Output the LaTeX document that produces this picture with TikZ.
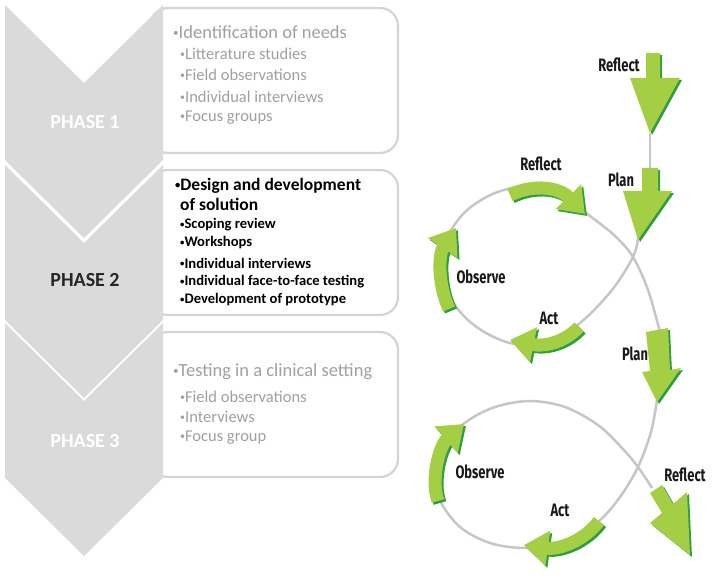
\documentclass[tikz,border=0pt]{standalone}
\usepackage{fontspec}
\setmainfont{Carlito}
\newfontfamily\lblfont{Fira Sans}[FakeStretch=0.72]
\usetikzlibrary{arrows.meta}
\newcommand\smbul{\raisebox{0.12em}{\scalebox{0.6}{\textbullet}}}
\definecolor{chev}{HTML}{DADADA}
\definecolor{boxline}{HTML}{D4D4D4}
\definecolor{txtgray}{HTML}{A0A0A0}
\definecolor{lgreen}{HTML}{A4CF45}
\definecolor{dgreen}{HTML}{2E9E40}
\definecolor{curvecol}{HTML}{C6C6C6}
\tikzset{
 chevst/.style={fill=chev},
 boxst/.style={draw=boxline, line width=2.2pt, fill=white, rounded corners=18pt},
 hdr/.style={anchor=west, inner sep=0pt, font=\fontsize{18.5}{20}\selectfont},
 itm/.style={anchor=west, inner sep=0pt, font=\fontsize{16.5}{18}\selectfont},
 hdrb/.style={anchor=west, inner sep=0pt, font=\fontsize{17.5}{19}\selectfont\bfseries},
 itmb/.style={anchor=west, inner sep=0pt, font=\fontsize{14.6}{16}\selectfont\bfseries},
 phase/.style={inner sep=0pt, font=\fontsize{20}{22}\selectfont\bfseries},
 lbl/.style={inner sep=0pt, font=\lblfont\bfseries\fontsize{18}{20}\selectfont, text=black!90},
 gline/.style={draw=curvecol, line width=2.5pt},
 garrow/.style={line width=13pt, -{Triangle[width=34pt,length=24pt]}},
}
\begin{document}
\begin{tikzpicture}[x=1pt,y=-1pt]
\useasboundingbox (0,0) rectangle (715,588);
% boxes
\draw[boxst] (150,8) rectangle (398,153);
\draw[boxst] (150,170) rectangle (398,315);
\draw[boxst] (150,332) rectangle (398,477);
% chevrons
\fill[chevst] (5,5) -- (84,83) -- (163,5) -- (163,160) -- (84,238) -- (5,160) -- cycle;
\fill[chevst] (5,165) -- (84,243) -- (163,165) -- (163,320) -- (84,398) -- (5,320) -- cycle;
\fill[chevst] (5,323) -- (84,401) -- (163,323) -- (163,478) -- (84,556) -- (5,478) -- cycle;
\node[phase, text=white] (ph1) at (85,122) {PHASE 1};
\node[phase, text=black!85] (ph2) at (85,280) {PHASE 2};
\node[phase, text=white] (ph3) at (85,441) {PHASE 3};
% phase 1 text
\node[hdr, text=txtgray] (h1) at (173,32) {\smbul Identification of needs};
\node[itm, text=txtgray] (i11) at (180,54) {\smbul Litterature studies};
\node[itm, text=txtgray] (i12) at (180,75) {\smbul Field observations};
\node[itm, text=txtgray] (i13) at (180,97) {\smbul Individual interviews};
\node[itm, text=txtgray] (i14) at (180,118) {\smbul Focus groups};
% phase 2 text
\node[hdrb] (h2) at (175,186) {\smbul Design and development};
\node[hdrb] (h2b) at (180,204) {of solution};
\node[itmb] (i21) at (180,225) {\smbul Scoping review};
\node[itmb] (i22) at (180,243) {\smbul Workshops};
\node[itmb] (i23) at (180,263) {\smbul Individual interviews};
\node[itmb] (i24) at (180,282) {\smbul Individual face-to-face testing};
\node[itmb] (i25) at (180,300) {\smbul Development of prototype};
% phase 3 text
\node[hdr, text=txtgray] (h3) at (173,372) {\smbul Testing in a clinical setting};
\node[itm, text=txtgray] (i31) at (180,397) {\smbul Field observations};
\node[itm, text=txtgray] (i32) at (180,417) {\smbul Interviews};
\node[itm, text=txtgray] (i33) at (180,438) {\smbul Focus group};
% spiral lines
\draw[gline] (650,133) -- (650,170);
\draw[gline] plot[smooth, tension=0.55] coordinates {(638,238) (633,257) (612,290) (580,323) (545,343) (510,343) (478,328) (455,305) (441,270) (446,240) (465,212) (495,193) (530,186) (562,195) (590,216) (615,236) (633,257) (648,290) (660,332)};
\draw[gline] plot[smooth, tension=0.55] coordinates {(657,400) (651,432) (638,467) (620,497) (598,522) (565,543) (525,548) (490,543) (460,527) (440,500) (437,470) (448,442) (466,422) (495,407) (530,401) (565,407) (598,425) (622,448) (638,467) (652,488)};
% arrows
\foreach \c/\s in {dgreen/2, lgreen/0}{
 \fill[\c, shift={(\s,\s)}] (646,53) -- (660,53) -- (660,78) -- (680,78) -- (650,133) -- (630,78) -- (646,78) -- cycle;
 \fill[\c, shift={(\s,\s)}] (642,168) -- (658,168) -- (658,191) -- (672,191) -- (638,240) -- (623,191) -- (642,191) -- cycle;
 \fill[\c, shift={(\s,\s)}] (646,332) -- (668,328) -- (670,370) -- (681,368) -- (657,402) -- (642,372) -- (650,371) -- cycle;
 \fill[\c, shift={(\s,\s)}] (650,493) -- (662,485) -- (673,504) -- (687,492) -- (690,555) -- (650,523) -- (662,513) -- cycle;
 \draw[garrow, \c, shift={(\s,\s)}] (510,195) .. controls (535,183) and (560,188) .. (585,214);
 \draw[garrow, \c, shift={(\s,\s)}] (579,327) .. controls (565,342) and (545,347) .. (510,340);
 \draw[garrow, \c, shift={(\s,\s)}] (449,309) .. controls (438,285) and (438,255) .. (456,228);
 \draw[garrow, \c, shift={(\s,\s)}] (599,521) .. controls (585,540) and (560,550) .. (524,545);
 \draw[garrow, \c, shift={(\s,\s)}] (438,501) .. controls (430,478) and (440,445) .. (464,424);
}
% labels
\node[lbl] (r0) at (619,65) {Reflect};
\node[lbl] (p0) at (621,180) {Plan};
\node[lbl] (r1) at (541,164) {Reflect};
\node[lbl] (o1) at (481,277) {Observe};
\node[lbl] (a1) at (549,318) {Act};
\node[lbl] (p1) at (635,354) {Plan};
\node[lbl] (o2) at (480,472) {Observe};
\node[lbl] (a2) at (560,510) {Act};
\node[lbl] (r2) at (685,475) {Reflect};
\end{tikzpicture}
\end{document}
